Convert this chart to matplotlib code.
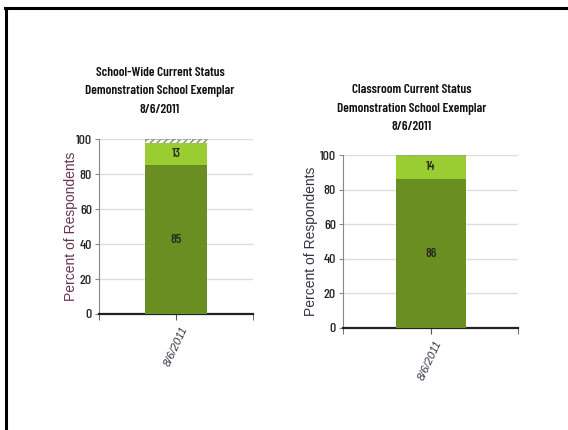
import matplotlib.pyplot as plt
from matplotlib.lines import Line2D

# stacked percentages per chart
dates = ["8/6/2011"]
school_dark = [85]
school_light = [13]
school_rest = [2]
class_dark = [86]
class_light = [14]
class_rest = [0]

titles = [
    "School-Wide Current Status\nDemonstration School Exemplar\n8/6/2011",
    "Classroom Current Status\nDemonstration School Exemplar\n8/6/2011",
]
yticks = [0, 20, 40, 60, 80, 100]

dark_green = "#6b8e23"
light_green = "#9acd32"
narrow = ["Barlow Condensed", "Archivo Narrow", "Liberation Sans Narrow",
          "DejaVu Sans"]
plain = ["Liberation Sans", "DejaVu Sans"]

fig = plt.figure(figsize=(5.68, 4.30), dpi=100)
fig.patch.set_facecolor("white")

# page border: top and left edges only
fig.add_artist(Line2D([5 / 568, 567 / 568], [1 - 8 / 430, 1 - 8 / 430],
                      color="black", lw=2.2, transform=fig.transFigure))
fig.add_artist(Line2D([6 / 568, 6 / 568], [1 - 8 / 430, 0],
                      color="black", lw=2.2, transform=fig.transFigure))

ax1 = fig.add_axes([99 / 568, 1 - 314 / 430, 154 / 568, 175 / 430])
ax2 = fig.add_axes([343 / 568, 1 - 328 / 430, 175 / 568, 173 / 430])

panels = [
    (ax1, school_dark, school_light, school_rest, titles[0], "#6b3350", -16, 19, -0.135),
    (ax2, class_dark, class_light, class_rest, titles[1], "#333344", -19, 18, -0.14),
]

for ax, dark, light, rest, title, lab_col, title_dx, title_pad, lab_x in panels:
    x = range(len(dates))
    ax.bar(x, dark, width=0.4, color=dark_green, zorder=3)
    ax.bar(x, light, bottom=dark, width=0.4, color=light_green, zorder=3)
    top = [d + l for d, l in zip(dark, light)]
    ax.bar(x, rest, bottom=top, width=0.4, facecolor="white",
           edgecolor="#888888", hatch="/////", lw=0, zorder=3)
    # dotted cap along the top of the stack
    ax.bar(x, [0] * len(dates), bottom=[t + r for t, r in zip(top, rest)],
           width=0.4, facecolor="none", edgecolor="#999999",
           linestyle=":", lw=0.8, zorder=4)
    for i in x:
        ax.text(i, dark[i] / 2, str(dark[i]), ha="center", va="center",
                fontsize=9.5, family=narrow, weight="medium",
                color="#222222", zorder=5)
        ax.text(i, dark[i] + light[i] / 2, str(light[i]), ha="center",
                va="center", fontsize=9.5, family=narrow, weight="medium",
                color="#222222", zorder=5)

    ax.set_xlim(-0.5, 0.5)
    ax.set_ylim(0, 100)
    ax.set_yticks(yticks)
    ax.set_yticklabels([str(t) for t in yticks], family=narrow, fontsize=10,
                       weight="medium", color="#222222")
    ax.set_xticks(list(x))
    ax.set_xticklabels(dates, rotation=65, fontsize=8, style="italic",
                       family=plain, color="#333344", ha="center", va="top")
    ax.set_xticks([-0.5, 0.5], minor=True)
    ax.tick_params(axis="x", which="both", length=4, color="#555555")
    ax.tick_params(axis="y", length=3, color="#888888", pad=2)
    ax.grid(axis="y", color="#dddddd", lw=1, zorder=0)
    ax.set_axisbelow(True)
    for s in ["top", "right"]:
        ax.spines[s].set_visible(False)
    ax.spines["left"].set_color("#888888")
    ax.spines["bottom"].set_color("#222222")
    ax.spines["bottom"].set_linewidth(1.6)
    ax.set_ylabel("Percent of Respondents", fontsize=10, family=plain,
                  color=lab_col)
    ax.yaxis.set_label_coords(lab_x, 0.5)
    ax.set_title(title, family=narrow, fontsize=9.5, fontweight="semibold",
                 color="#111111", pad=title_pad, linespacing=1.7)
    ax.title.set_x(0.5 + title_dx / ax.bbox.width)

fig.savefig("out.png", dpi=100)
